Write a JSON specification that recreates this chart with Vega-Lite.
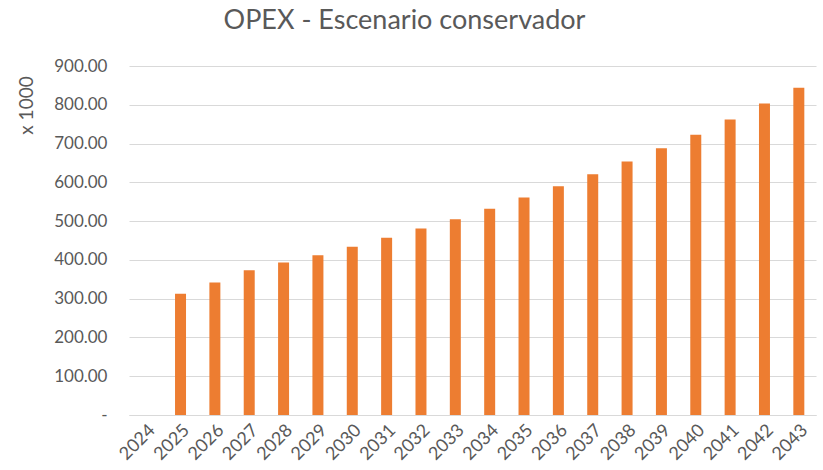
{
  "$schema": "https://vega.github.io/schema/vega-lite/v6.json",
  "width": 687,
  "height": 349,
  "autosize": {"type": "none"},
  "padding": {"left": 129, "top": 66, "right": 7, "bottom": 55},
  "background": "white",
  "title": {
    "text": "OPEX - Escenario conservador",
    "font": "Lato",
    "fontSize": 27,
    "fontWeight": "normal",
    "color": "#595959",
    "anchor": "middle",
    "frame": "group",
    "dx": -68,
    "offset": 22
  },
  "data": {
    "values": [
      {"year": "2024", "value": 0},
      {"year": "2025", "value": 313},
      {"year": "2026", "value": 342},
      {"year": "2027", "value": 373},
      {"year": "2028", "value": 393},
      {"year": "2029", "value": 412},
      {"year": "2030", "value": 434},
      {"year": "2031", "value": 457},
      {"year": "2032", "value": 481},
      {"year": "2033", "value": 505},
      {"year": "2034", "value": 532},
      {"year": "2035", "value": 561},
      {"year": "2036", "value": 590},
      {"year": "2037", "value": 621},
      {"year": "2038", "value": 654},
      {"year": "2039", "value": 688},
      {"year": "2040", "value": 723},
      {"year": "2041", "value": 762},
      {"year": "2042", "value": 803},
      {"year": "2043", "value": 844}
    ]
  },
  "mark": {"type": "bar", "color": "#ED7D31"},
  "encoding": {
    "x": {
      "field": "year",
      "type": "nominal",
      "sort": null,
      "scale": {"paddingInner": 0.68, "paddingOuter": 0.34},
      "axis": {
        "title": null,
        "labelAngle": -45,
        "labelFont": "Lato",
        "labelFontSize": 18,
        "labelColor": "#595959",
        "labelPadding": 6,
        "ticks": false,
        "domainColor": "#d9d9d9",
        "domainWidth": 1
      }
    },
    "y": {
      "field": "value",
      "type": "quantitative",
      "scale": {"domain": [0, 900], "nice": false},
      "axis": {
        "values": [0, 100, 200, 300, 400, 500, 600, 700, 800, 900],
        "labelExpr": "datum.value === 0 ? '-' : format(datum.value, '.2f')",
        "title": "x 1000",
        "titleFont": "Lato",
        "titleFontSize": 19,
        "titleFontWeight": "normal",
        "titleColor": "#595959",
        "titleAlign": "center",
        "titleBaseline": "bottom",
        "titleAngle": -90,
        "titleX": -93,
        "titleY": 39,
        "labelFont": "Lato",
        "labelFontSize": 17,
        "labelColor": "#595959",
        "labelPadding": 22,
        "ticks": false,
        "domain": false,
        "gridColor": "#d9d9d9",
        "gridWidth": 1
      }
    }
  },
  "config": {"view": {"stroke": null}}
}
